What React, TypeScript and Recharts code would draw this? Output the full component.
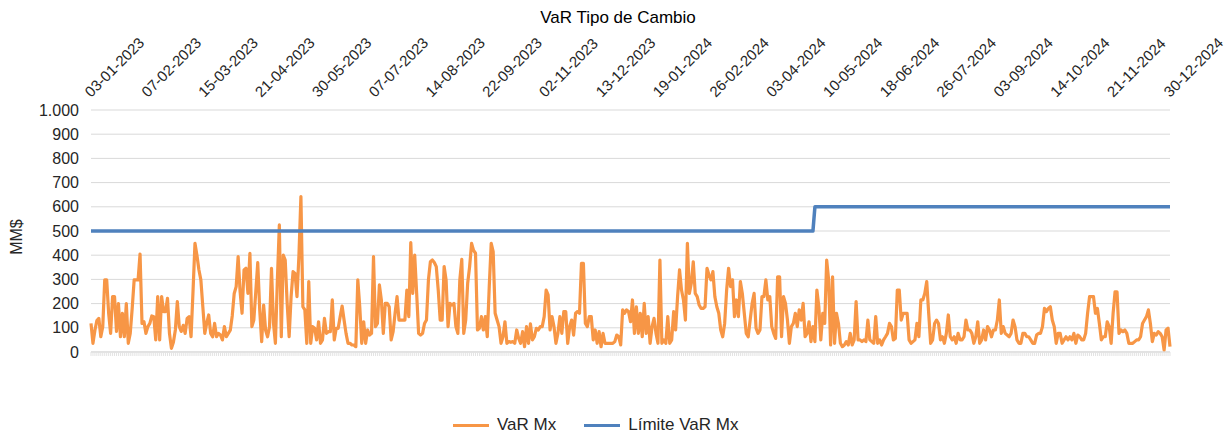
import { LineChart, Line, XAxis, YAxis, CartesianGrid } from "recharts";

const FONT = '"Liberation Sans", Arial, sans-serif';
const ORANGE = "#F79646";
const BLUE = "#4F81BD";
const TXT = "#262626";

// tick labels on the top axis (evenly spread over the series)
const tickLabels = [
  "03-01-2023", "07-02-2023", "15-03-2023", "21-04-2023", "30-05-2023",
  "07-07-2023", "14-08-2023", "22-09-2023", "02-11-2023", "13-12-2023",
  "19-01-2024", "26-02-2024", "03-04-2024", "10-05-2024", "18-06-2024",
  "26-07-2024", "03-09-2024", "14-10-2024", "21-11-2024", "30-12-2024",
];

const yTicks = [0, 100, 200, 300, 400, 500, 600, 700, 800, 900, 1000];

// VaR Mx, daily values
const varMx = [
  // Jan - Feb 2023
  118, 36, 90, 130, 139, 63, 105, 298, 298, 160, 77, 229, 229, 85, 200, 63, 160, 63, 200, 36,
  77, 180, 298, 298, 298, 405, 118, 125, 77, 105, 118, 149, 146, 50, 229, 50, 229, 167, 167, 222,
  77, 15, 40, 91, 208, 105, 85, 110, 77, 139, 146, 63, 250, 449,
  // Feb - May 2023
  400, 340, 298, 187, 77, 120, 153, 77, 63, 118, 63, 77, 70, 50, 105, 63, 77, 90, 150, 242,
  270, 394, 250, 160, 339, 346, 242, 408, 105, 132, 250, 369, 174, 43, 194, 90, 63, 105, 346, 120,
  36, 298, 525, 63, 400, 380, 200, 63, 229, 332, 325, 229, 400, 642,
  // May - Aug 2023
  187, 174, 36, 291, 36, 105, 98, 50, 125, 36, 50, 139, 77, 84, 84, 215, 50, 98, 98, 146,
  190, 132, 77, 36, 36, 29, 29, 22, 298, 187, 36, 125, 36, 91, 70, 77, 394, 105, 118, 277,
  215, 77, 201, 201, 187, 50, 84, 160, 229, 132, 132, 132, 132, 256, 146, 452,
  // Aug - Oct 2023
  242, 400, 242, 77, 70, 77, 118, 132, 298, 373, 380, 370, 353, 256, 132, 132, 353, 298, 105, 201,
  194, 201, 105, 77, 298, 383, 77, 132, 284, 353, 449, 420, 408, 91, 98, 146, 91, 146, 63, 270,
  449, 415, 160, 132, 105, 36, 63, 125, 36, 43, 40, 43, 36, 91, 56,
  // Oct 2023 - Jan 2024
  36, 84, 22, 105, 36, 116, 50, 63, 98, 91, 105, 105, 146, 256, 236, 91, 146, 105, 36, 77,
  146, 77, 167, 167, 36, 105, 132, 70, 160, 167, 160, 366, 366, 118, 105, 146, 146, 50, 91, 36,
  84, 22, 77, 36, 36, 36, 36, 36, 43, 70, 63, 29, 174, 160, 174, 167,
  // Jan - Mar 2024
  125, 215, 77, 187, 77, 160, 63, 201, 77, 146, 36, 105, 139, 77, 36, 380, 36, 50, 36, 146,
  36, 50, 167, 91, 229, 339, 256, 215, 132, 449, 242, 284, 373, 242, 229, 194, 180, 180, 187, 346,
  318, 298, 332, 229, 187, 160, 91, 63, 118, 256, 346, 270, 298, 146,
  // Mar - Jun 2024
  215, 146, 291, 242, 160, 77, 63, 132, 201, 242, 98, 77, 91, 229, 229, 298, 215, 229, 105, 77,
  56, 311, 311, 63, 229, 201, 132, 36, 105, 118, 160, 105, 174, 132, 201, 63, 77, 125, 43, 105,
  43, 256, 187, 50, 160, 118, 380, 298, 29, 311, 36, 160, 118, 36, 22, 29,
  // Jun - Aug 2024
  43, 29, 77, 29, 50, 208, 50, 50, 43, 50, 43, 132, 50, 43, 36, 146, 36, 50, 29, 50,
  63, 77, 118, 105, 50, 56, 256, 256, 132, 160, 160, 160, 50, 36, 43, 50, 118, 63, 215, 215,
  242, 291, 160, 36, 50, 118, 132, 118, 50, 63, 36, 77, 153, 63, 50,
  // Aug - Nov 2024
  63, 36, 77, 50, 50, 63, 132, 91, 91, 77, 36, 63, 125, 36, 50, 91, 50, 105, 91, 63,
  91, 91, 132, 215, 77, 105, 77, 70, 63, 77, 132, 105, 50, 36, 36, 77, 77, 63, 63, 50,
  36, 36, 70, 77, 77, 105, 180, 167, 180, 187, 132, 105, 36, 77,
  // Nov - Dec 2024
  77, 36, 50, 63, 50, 63, 50, 77, 36, 70, 63, 50, 50, 77, 160, 229, 229, 229, 160, 180,
  118, 50, 63, 63, 125, 105, 36, 160, 249, 249, 77, 91, 84, 91, 77, 36, 36, 36, 43, 50,
  50, 63, 118, 132, 146, 174, 118, 43, 77, 70, 84, 77, 63, 8, 91, 98, 22,
];

// Límite VaR Mx: a step from 500 to 600 in April 2024
const limitIdx = [0, 368, 369, 550];
const limitVal = [500, 500, 600, 600];

const fmtThousands = (v: number) => String(v).replace(/\B(?=(\d{3})+(?!\d))/g, ".");

const TopTick = (props: any) => {
  const { x, y, index } = props;
  return (
    <text
      x={x}
      y={y}
      transform={`rotate(-45 ${x} ${y})`}
      textAnchor="start"
      fontSize={15}
      fill={TXT}
      fontFamily={FONT}
    >
      {tickLabels[index]}
    </text>
  );
};

export default function App() {
  const data = varMx.map((v, i) => ({ i, var: v }));
  const limitData = limitIdx.map((i, k) => ({ i, limite: limitVal[k] }));
  const last = varMx.length - 1;
  const labelTicks = tickLabels.map((_, k) => (k * last) / (tickLabels.length - 1));
  const allTicks = varMx.map((_, i) => i);

  return (
    <div
      style={{
        position: "absolute",
        left: 0,
        top: 0,
        width: 1230,
        height: 434,
        background: "#fff",
        fontFamily: FONT,
      }}
    >
      <div
        style={{
          position: "absolute",
          top: 8,
          left: 0,
          width: 1236,
          textAlign: "center",
          fontSize: 17,
          color: "#000",
        }}
      >
        VaR Tipo de Cambio
      </div>

      <div
        style={{
          position: "absolute",
          left: 17,
          top: 237,
          transform: "translate(-50%, -50%) rotate(-90deg)",
          fontSize: 16,
          color: TXT,
          whiteSpace: "nowrap",
        }}
      >
        MM$
      </div>

      <LineChart
        width={1230}
        height={434}
        data={data}
        margin={{ top: 10, right: 60, bottom: 72, left: 0 }}
      >
        <CartesianGrid xAxisId="b" yAxisId="y" vertical={false} stroke="#d9d9d9" />
        <XAxis
          xAxisId="t"
          orientation="top"
          type="number"
          dataKey="i"
          domain={[0, last]}
          ticks={labelTicks}
          interval={0}
          height={100}
          axisLine={false}
          tickLine={false}
          tickSize={0}
          tickMargin={12}
          tick={<TopTick />}
        />
        <XAxis
          xAxisId="b"
          type="number"
          dataKey="i"
          domain={[0, last]}
          ticks={allTicks}
          interval={0}
          height={10}
          axisLine={{ stroke: "#d9d9d9" }}
          tickLine={{ stroke: "#e3e3e3" }}
          tickSize={4}
          tick={() => <g />}
        />
        <YAxis
          yAxisId="y"
          domain={[0, 1000]}
          ticks={yTicks}
          interval={0}
          width={91}
          axisLine={false}
          tickLine={false}
          tickSize={0}
          tickMargin={12}
          tickFormatter={fmtThousands}
          tick={{ fontSize: 16, fill: TXT, fontFamily: FONT }}
        />
        <Line
          xAxisId="b"
          yAxisId="y"
          type="linear"
          dataKey="var"
          stroke={ORANGE}
          strokeWidth={3.2}
          strokeLinejoin="round"
          dot={false}
          isAnimationActive={false}
        />
        <Line
          xAxisId="b"
          yAxisId="y"
          type="linear"
          data={limitData}
          dataKey="limite"
          stroke={BLUE}
          strokeWidth={3.5}
          strokeLinejoin="round"
          dot={false}
          isAnimationActive={false}
        />
      </LineChart>

      {/* legend */}
      <div
        style={{
          position: "absolute",
          left: 453,
          top: 414,
          height: 22,
          display: "flex",
          alignItems: "center",
          fontSize: 17,
          color: TXT,
          whiteSpace: "nowrap",
        }}
      >
        <span style={{ width: 36, height: 3, background: ORANGE, display: "inline-block" }} />
        <span style={{ marginLeft: 8 }}>VaR Mx</span>
        <span
          style={{ width: 36, height: 3, background: BLUE, display: "inline-block", marginLeft: 28 }}
        />
        <span style={{ marginLeft: 8 }}>Límite VaR Mx</span>
      </div>
    </div>
  );
}
